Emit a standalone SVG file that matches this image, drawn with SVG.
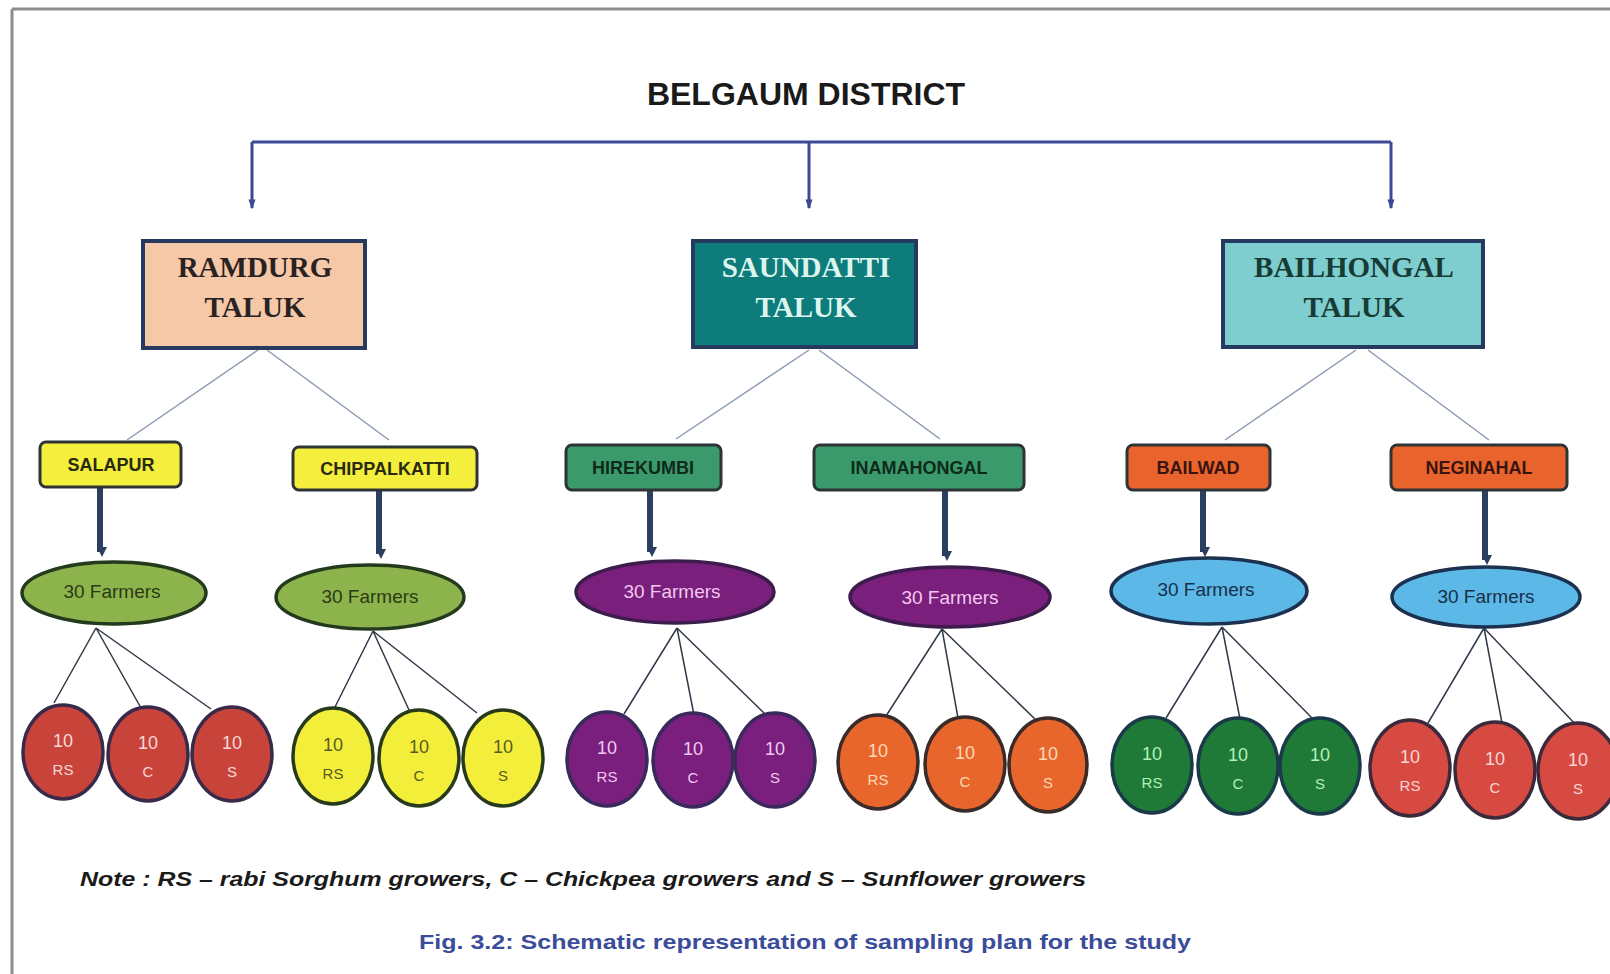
<svg xmlns="http://www.w3.org/2000/svg" width="1610" height="974" viewBox="0 0 1610 974">
<defs>
<style>
.title{font-family:"Liberation Sans",Arial,sans-serif;font-weight:bold;font-size:32px;fill:#1a1a1a;text-anchor:middle}
.taluk{font-family:"Liberation Serif","Times New Roman",serif;font-weight:bold;font-size:29px;text-anchor:middle}
.vill{font-family:"Liberation Sans",Arial,sans-serif;font-weight:bold;font-size:18px;text-anchor:middle}
.far{font-family:"Liberation Sans",Arial,sans-serif;font-size:19px;text-anchor:middle}
.n{font-family:"Liberation Sans",Arial,sans-serif;font-size:18px;text-anchor:middle}
.l{font-family:"Liberation Sans",Arial,sans-serif;font-size:15px;text-anchor:middle}
.tbox{stroke:#253a5e;stroke-width:4}
.vbox{stroke:#2e3436;stroke-width:3}
.thin{stroke:#8a9ab0;stroke-width:1.5;fill:none}
.fan{stroke:#2f3a48;stroke-width:1.5;fill:none}
.top{stroke:#3c4a96;stroke-width:3;fill:none}
.thick{stroke:#2b3f5e;stroke-width:6;fill:none}
.ell{stroke-width:3.5}
.circ{stroke-width:3.5}
</style>
<marker id="ah2" markerWidth="10" markerHeight="10" refX="5" refY="7" orient="auto" markerUnits="userSpaceOnUse" viewBox="0 0 10 10">
<path d="M0,0 L10,5 L0,10 Z" fill="#2b3f5e"/>
</marker>
<marker id="ah3" markerWidth="10" markerHeight="14" refX="12" refY="5" orient="auto" markerUnits="userSpaceOnUse" viewBox="0 0 14 10">
<path d="M0,0 L14,5 L0,10 Z" fill="#3c4a96"/>
</marker>
</defs>
<rect x="0" y="0" width="1610" height="974" fill="#ffffff"/>
<line x1="12" y1="9" x2="1610" y2="9" stroke="#8c8c8c" stroke-width="3"/>
<line x1="12" y1="9" x2="12" y2="974" stroke="#8c8c8c" stroke-width="3"/>

<text class="title" x="806" y="105">BELGAUM DISTRICT</text>

<g id="connectors">
<path class="top" d="M252,142 H1391"/>
<line class="top" x1="252" y1="142" x2="252" y2="208" marker-end="url(#ah3)"/>
<line class="top" x1="809" y1="142" x2="809" y2="208" marker-end="url(#ah3)"/>
<line class="top" x1="1391" y1="142" x2="1391" y2="208" marker-end="url(#ah3)"/>

<line class="thin" x1="258" y1="350" x2="127" y2="440"/>
<line class="thin" x1="267" y1="350" x2="389" y2="440"/>
<line class="thin" x1="809" y1="350" x2="676" y2="439"/>
<line class="thin" x1="819" y1="350" x2="940" y2="439"/>
<line class="thin" x1="1356" y1="350" x2="1225" y2="440"/>
<line class="thin" x1="1368" y1="350" x2="1489" y2="440"/>

<line class="thick" x1="100" y1="488" x2="100" y2="552" marker-end="url(#ah2)"/>
<line class="thick" x1="379" y1="491" x2="379" y2="554" marker-end="url(#ah2)"/>
<line class="thick" x1="650" y1="491" x2="650" y2="552" marker-end="url(#ah2)"/>
<line class="thick" x1="945" y1="491" x2="945" y2="556" marker-end="url(#ah2)"/>
<line class="thick" x1="1203" y1="491" x2="1203" y2="552" marker-end="url(#ah2)"/>
<line class="thick" x1="1485" y1="491" x2="1485" y2="560" marker-end="url(#ah2)"/>

<path class="fan" d="M96,628 L54,703 M96,628 L141,708 M96,628 L211,709"/>
<path class="fan" d="M373,631 L334,709 M373,631 L409,710 M373,631 L477,713"/>
<path class="fan" d="M677,628 L624,714 M677,628 L694,715 M677,628 L767,716"/>
<path class="fan" d="M942,629 L886,716 M942,629 L958,718 M942,629 L1035,719"/>
<path class="fan" d="M1222,627 L1166,718 M1222,627 L1240,719 M1222,627 L1315,721"/>
<path class="fan" d="M1484,628 L1428,723 M1484,628 L1502,723 M1484,628 L1577,726"/>
</g>

<g id="ramdurg">
<rect class="tbox" x="143" y="241" width="222" height="107" fill="#f5c8a8"/>
<text class="taluk" x="255" y="277" fill="#2a2222">RAMDURG</text>
<text class="taluk" x="255" y="317" fill="#2a2222">TALUK</text>
</g>
<g id="saundatti">
<rect class="tbox" x="693" y="241" width="223" height="106" fill="#0d7c7a"/>
<text class="taluk" x="806" y="277" fill="#def5ef">SAUNDATTI</text>
<text class="taluk" x="806" y="317" fill="#def5ef">TALUK</text>
</g>
<g id="bailhongal">
<rect class="tbox" x="1223" y="241" width="260" height="106" fill="#7ecdcf"/>
<text class="taluk" x="1354" y="277" fill="#173a34">BAILHONGAL</text>
<text class="taluk" x="1354" y="317" fill="#173a34">TALUK</text>
</g>

<g id="salapur">
<rect class="vbox" x="40" y="442" width="141" height="45" rx="6" fill="#f4ee3c"/>
<text class="vill" x="111" y="471" fill="#2a2a10">SALAPUR</text>
</g>
<g id="chippalkatti">
<rect class="vbox" x="293" y="447" width="184" height="43" rx="6" fill="#f4ee3c"/>
<text class="vill" x="385" y="475" fill="#2a2a10">CHIPPALKATTI</text>
</g>
<g id="hirekumbi">
<rect class="vbox" x="566" y="445" width="155" height="45" rx="6" fill="#3a9a6c"/>
<text class="vill" x="643" y="474" fill="#0d2a1a">HIREKUMBI</text>
</g>
<g id="inamahongal">
<rect class="vbox" x="814" y="445" width="210" height="45" rx="6" fill="#3a9a6c"/>
<text class="vill" x="919" y="474" fill="#0d2a1a">INAMAHONGAL</text>
</g>
<g id="bailwad">
<rect class="vbox" x="1127" y="445" width="143" height="45" rx="6" fill="#e8642c"/>
<text class="vill" x="1198" y="474" fill="#3a1410">BAILWAD</text>
</g>
<g id="neginahal">
<rect class="vbox" x="1391" y="445" width="176" height="45" rx="6" fill="#e8642c"/>
<text class="vill" x="1479" y="474" fill="#3a1410">NEGINAHAL</text>
</g>

<g id="farmers-salapur">
<ellipse class="ell" cx="114" cy="593" rx="92" ry="31" fill="#8db44c" stroke="#243a1c"/>
<text class="far" x="112" y="598" fill="#2a3a14">30 Farmers</text>
</g>
<g id="farmers-chippalkatti">
<ellipse class="ell" cx="370" cy="597" rx="94" ry="32" fill="#8db44c" stroke="#243a1c"/>
<text class="far" x="370" y="603" fill="#2a3a14">30 Farmers</text>
</g>
<g id="farmers-hirekumbi">
<ellipse class="ell" cx="675" cy="592" rx="99" ry="31" fill="#7a1f7c" stroke="#3c1c4c"/>
<text class="far" x="672" y="598" fill="#f2c8f0">30 Farmers</text>
</g>
<g id="farmers-inamahongal">
<ellipse class="ell" cx="950" cy="597" rx="100" ry="30" fill="#7a1f7c" stroke="#3c1c4c"/>
<text class="far" x="950" y="604" fill="#f2c8f0">30 Farmers</text>
</g>
<g id="farmers-bailwad">
<ellipse class="ell" cx="1209" cy="591" rx="98" ry="33" fill="#5cb8e6" stroke="#1c3050"/>
<text class="far" x="1206" y="596" fill="#16304a">30 Farmers</text>
</g>
<g id="farmers-neginahal">
<ellipse class="ell" cx="1486" cy="597" rx="94" ry="30" fill="#5cb8e6" stroke="#1c3050"/>
<text class="far" x="1486" y="603" fill="#16304a">30 Farmers</text>
</g>

<g id="salapur-rs"><ellipse class="circ" cx="63" cy="752" rx="40" ry="47" fill="#c8443a" stroke="#3a2a4a"/><text class="n" x="63" y="747" fill="#f6d8d8">10</text><text class="l" x="63" y="775" fill="#f6d8d8">RS</text></g>
<g id="salapur-c"><ellipse class="circ" cx="148" cy="754" rx="40" ry="47" fill="#c8443a" stroke="#3a2a4a"/><text class="n" x="148" y="749" fill="#f6d8d8">10</text><text class="l" x="148" y="777" fill="#f6d8d8">C</text></g>
<g id="salapur-s"><ellipse class="circ" cx="232" cy="754" rx="40" ry="47" fill="#c8443a" stroke="#3a2a4a"/><text class="n" x="232" y="749" fill="#f6d8d8">10</text><text class="l" x="232" y="777" fill="#f6d8d8">S</text></g>

<g id="chippalkatti-rs"><ellipse class="circ" cx="333" cy="756" rx="40" ry="48" fill="#f2ee3a" stroke="#283a1c"/><text class="n" x="333" y="751" fill="#5a5a24">10</text><text class="l" x="333" y="779" fill="#5a5a24">RS</text></g>
<g id="chippalkatti-c"><ellipse class="circ" cx="419" cy="758" rx="40" ry="48" fill="#f2ee3a" stroke="#283a1c"/><text class="n" x="419" y="753" fill="#5a5a24">10</text><text class="l" x="419" y="781" fill="#5a5a24">C</text></g>
<g id="chippalkatti-s"><ellipse class="circ" cx="503" cy="758" rx="40" ry="48" fill="#f2ee3a" stroke="#283a1c"/><text class="n" x="503" y="753" fill="#5a5a24">10</text><text class="l" x="503" y="781" fill="#5a5a24">S</text></g>

<g id="hirekumbi-rs"><ellipse class="circ" cx="607" cy="759" rx="40" ry="47" fill="#7a1f7e" stroke="#3a2a5c"/><text class="n" x="607" y="754" fill="#f2c8f2">10</text><text class="l" x="607" y="782" fill="#f2c8f2">RS</text></g>
<g id="hirekumbi-c"><ellipse class="circ" cx="693" cy="760" rx="40" ry="47" fill="#7a1f7e" stroke="#3a2a5c"/><text class="n" x="693" y="755" fill="#f2c8f2">10</text><text class="l" x="693" y="783" fill="#f2c8f2">C</text></g>
<g id="hirekumbi-s"><ellipse class="circ" cx="775" cy="760" rx="40" ry="47" fill="#7a1f7e" stroke="#3a2a5c"/><text class="n" x="775" y="755" fill="#f2c8f2">10</text><text class="l" x="775" y="783" fill="#f2c8f2">S</text></g>

<g id="inamahongal-rs"><ellipse class="circ" cx="878" cy="762" rx="40" ry="47" fill="#e8662c" stroke="#3a2a2a"/><text class="n" x="878" y="757" fill="#fcd8b4">10</text><text class="l" x="878" y="785" fill="#fcd8b4">RS</text></g>
<g id="inamahongal-c"><ellipse class="circ" cx="965" cy="764" rx="40" ry="47" fill="#e8662c" stroke="#3a2a2a"/><text class="n" x="965" y="759" fill="#fcd8b4">10</text><text class="l" x="965" y="787" fill="#fcd8b4">C</text></g>
<g id="inamahongal-s"><ellipse class="circ" cx="1048" cy="765" rx="39" ry="47" fill="#e8662c" stroke="#3a2a2a"/><text class="n" x="1048" y="760" fill="#fcd8b4">10</text><text class="l" x="1048" y="788" fill="#fcd8b4">S</text></g>

<g id="bailwad-rs"><ellipse class="circ" cx="1152" cy="765" rx="40" ry="48" fill="#1e7a36" stroke="#1a3a4a"/><text class="n" x="1152" y="760" fill="#b4f0b8">10</text><text class="l" x="1152" y="788" fill="#b4f0b8">RS</text></g>
<g id="bailwad-c"><ellipse class="circ" cx="1238" cy="766" rx="40" ry="48" fill="#1e7a36" stroke="#1a3a4a"/><text class="n" x="1238" y="761" fill="#b4f0b8">10</text><text class="l" x="1238" y="789" fill="#b4f0b8">C</text></g>
<g id="bailwad-s"><ellipse class="circ" cx="1320" cy="766" rx="40" ry="48" fill="#1e7a36" stroke="#1a3a4a"/><text class="n" x="1320" y="761" fill="#b4f0b8">10</text><text class="l" x="1320" y="789" fill="#b4f0b8">S</text></g>

<g id="neginahal-rs"><ellipse class="circ" cx="1410" cy="768" rx="40" ry="48" fill="#d64a42" stroke="#3a2a3c"/><text class="n" x="1410" y="763" fill="#f8d4d4">10</text><text class="l" x="1410" y="791" fill="#f8d4d4">RS</text></g>
<g id="neginahal-c"><ellipse class="circ" cx="1495" cy="770" rx="40" ry="48" fill="#d64a42" stroke="#3a2a3c"/><text class="n" x="1495" y="765" fill="#f8d4d4">10</text><text class="l" x="1495" y="793" fill="#f8d4d4">C</text></g>
<g id="neginahal-s"><ellipse class="circ" cx="1578" cy="771" rx="40" ry="48" fill="#d64a42" stroke="#3a2a3c"/><text class="n" x="1578" y="766" fill="#f8d4d4">10</text><text class="l" x="1578" y="794" fill="#f8d4d4">S</text></g>

<text x="80" y="886" font-family="Liberation Sans, Arial, sans-serif" font-size="21" font-weight="bold" font-style="italic" fill="#1a1a1a" textLength="1006" lengthAdjust="spacingAndGlyphs">Note : RS – rabi Sorghum growers, C – Chickpea growers and S – Sunflower growers</text>
<text x="419" y="949" font-family="Liberation Sans, Arial, sans-serif" font-size="21" font-weight="bold" fill="#3a4c9a" textLength="772" lengthAdjust="spacingAndGlyphs">Fig.  3.2: Schematic representation of sampling plan for the study</text>
</svg>
